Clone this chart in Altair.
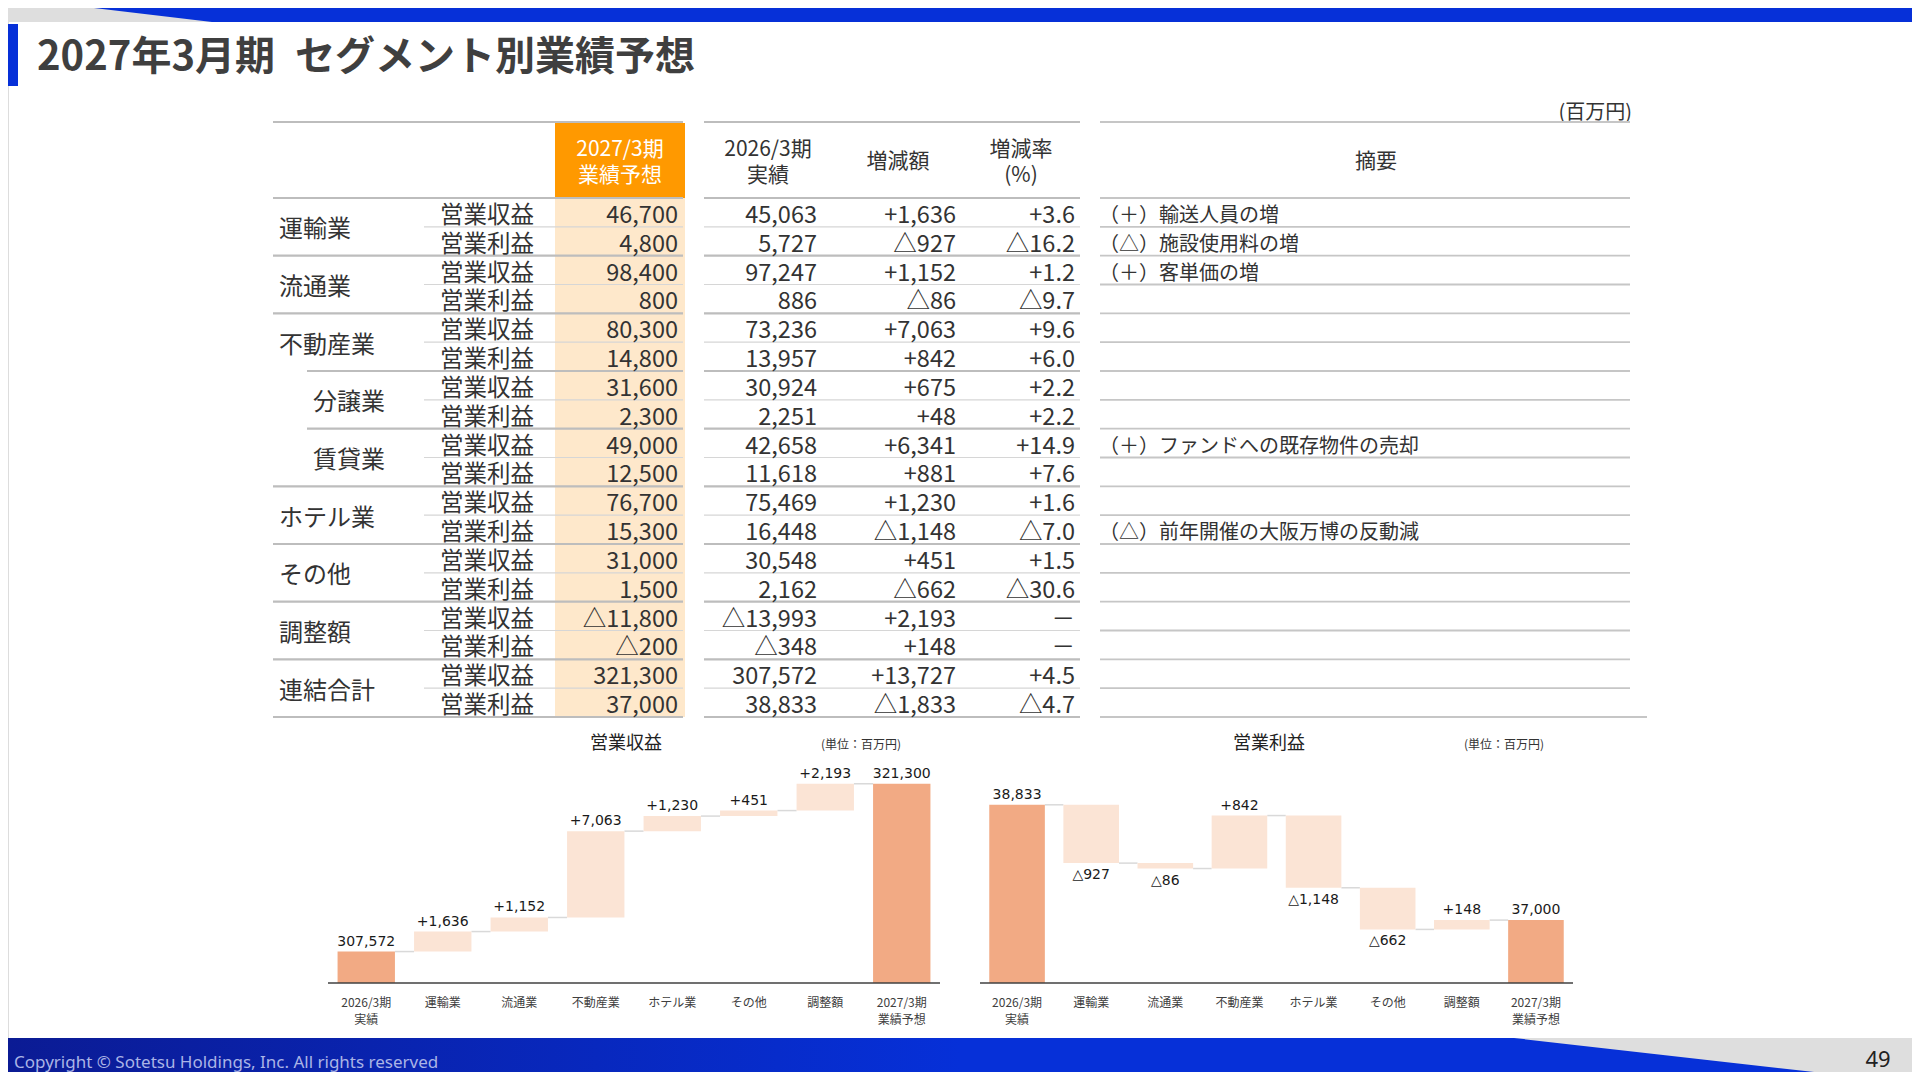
import altair as alt
import pandas as pd

alt.data_transformers.disable_max_rows()

JP = "Noto Sans CJK JP"
NUM = "DejaVu Sans"
TXT = "#333333"
BLUE = "#0630d8"
GRAY_WEDGE = "#dedede"
ORANGE = "#ff9900"
ORANGE_LIGHT = "#fee8cb"
BAR_TOTAL = "#f2aa84"
BAR_DELTA = "#fbe4d5"

# canvas (chart coords = slide pixel - 8, the page margin)
W, H = 1904, 1064

# DONNÉES DU TABLEAU
# -------------------------
groups = ["運輸業", "流通業", "不動産業", "分譲業", "賃貸業", "ホテル業", "その他", "調整額", "連結合計"]
sub_groups = ["分譲業", "賃貸業"]
items = ["営業収益", "営業利益"]

forecast_2027 = [46700, 4800, 98400, 800, 80300, 14800, 31600, 2300, 49000, 12500,
                 76700, 15300, 31000, 1500, -11800, -200, 321300, 37000]
actual_2026 = [45063, 5727, 97247, 886, 73236, 13957, 30924, 2251, 42658, 11618,
               75469, 16448, 30548, 2162, -13993, -348, 307572, 38833]
change = [1636, -927, 1152, -86, 7063, 842, 675, 48, 6341, 881,
          1230, -1148, 451, -662, 2193, 148, 13727, -1833]
change_rate = [3.6, -16.2, 1.2, -9.7, 9.6, 6.0, 2.2, 2.2, 14.9, 7.6,
               1.6, -7.0, 1.5, -30.6, None, None, 4.5, -4.7]
notes = ["（＋）輸送人員の増", "（△）施設使用料の増", "（＋）客単価の増", "", "", "", "", "",
         "（＋）ファンドへの既存物件の売却", "", "", "（△）前年開催の大阪万博の反動減",
         "", "", "", "", "", ""]

header_cols = ["2027/3期\n業績予想", "2026/3期\n実績", "増減額", "増減率\n(%)", "摘要"]

# waterfall categories (values come from the table above)
wf_steps = ["運輸業", "流通業", "不動産業", "ホテル業", "その他", "調整額"]
wf_labels = ["2026/3期\n実績"] + wf_steps + ["2027/3期\n業績予想"]


def fmt_num(v):
    return f"△{abs(v):,}" if v < 0 else f"{v:,}"


def fmt_chg(v):
    return f"△{abs(v):,}" if v < 0 else f"+{v:,}"


def fmt_rate(v):
    if v is None:
        return "－"
    return f"△{abs(v):.1f}" if v < 0 else f"+{v:.1f}"


n_rows = len(forecast_2027)
table = pd.DataFrame({
    "row": list(range(n_rows)),
    "item": items * (n_rows // 2),
    "f27": [fmt_num(v) for v in forecast_2027],
    "f26": [fmt_num(v) for v in actual_2026],
    "chg": [fmt_chg(v) for v in change],
    "rate": [fmt_rate(v) for v in change_rate],
    "note": notes,
})
grp = pd.DataFrame({"group": groups, "pos": [2 * i + 0.5 for i in range(len(groups))]})
grp["sub"] = grp["group"].isin(sub_groups)

one = pd.DataFrame({"v": [0]})
ROW_Y = alt.Scale(domain=[-0.5, n_rows - 0.5], range=[190, 709], nice=False, zero=False)


def box(x0, x1, y0, y1, **mk):
    return alt.Chart(one).mark_rect(**mk).encode(
        x=alt.value(x0), x2=alt.value(x1), y=alt.value(y0), y2=alt.value(y1))


def label(text, x, y, **mk):
    return alt.Chart(pd.DataFrame({"t": [text]})).mark_text(**mk).encode(
        x=alt.value(x), y=alt.value(y), text="t:N")


def wedge(px, py, py2, color):
    df = pd.DataFrame({"x": px, "y": py, "y2": py2})
    return alt.Chart(df).mark_area(color=color).encode(
        x=alt.X("x:Q", scale=None, axis=None),
        y=alt.Y("y:Q", scale=None, axis=None),
        y2="y2:Q")


def col_text(field, x, align, size=23.5, data=table):
    return alt.Chart(data).mark_text(align=align, baseline="middle", font=JP, dy=3.5,
                                     fontSize=size, color=TXT).encode(
        x=alt.value(x),
        y=alt.Y("row:Q", scale=ROW_Y, axis=None),
        text=f"{field}:N")


layers = []

# BANDEAU / TITRE
# -------------------------
layers.append(box(0, W, 0, 14, color=BLUE))
layers.append(wedge([0, 86, 204], [0, 0, 14], [14, 14, 14], GRAY_WEDGE))
layers.append(box(0, 10, 16, 78, color=BLUE))
layers.append(label("2027年3月期\u2002セグメント別業績予想", 29, 50, font=JP, fontSize=40,
                    fontWeight="bold", color="#3f3f3f", align="left", baseline="middle"))
layers.append(label("(百万円)", 1624, 105, font=JP, fontSize=20, color=TXT,
                    align="right", baseline="middle"))

# TABLEAU
# -------------------------
layers.append(box(547, 677, 115, 190, color=ORANGE))
fill = pd.DataFrame({"a": [-0.5], "b": [n_rows - 0.5]})
layers.append(alt.Chart(fill).mark_rect(color=ORANGE_LIGHT).encode(
    x=alt.value(547), x2=alt.value(677),
    y=alt.Y("a:Q", scale=ROW_Y, axis=None), y2="b:Q"))

# lignes du tableau
line_rows = []
for k in range(n_rows + 1):
    pos = k - 0.5
    if k % 2 == 0:
        g = groups[k // 2] if k // 2 < len(groups) else ""
        x0 = 299 if g in sub_groups else 265
        line_rows.append(dict(pos=pos, x0=x0, x1=675, w="thick"))
        line_rows.append(dict(pos=pos, x0=696, x1=1072, w="thick"))
    else:
        line_rows.append(dict(pos=pos, x0=416, x1=675, w="thin"))
        line_rows.append(dict(pos=pos, x0=696, x1=1072, w="thin"))
    line_rows.append(dict(pos=pos, x0=1092, x1=1639 if k == n_rows else 1622, w="note"))
lines = pd.DataFrame(line_rows)
line_style = {"thick": ("#bdbdbd", 2.2), "thin": ("#d6d6d6", 1.2), "note": ("#c6c6c6", 1.8)}
for w, (c, sw) in line_style.items():
    layers.append(alt.Chart(lines[lines["w"] == w]).mark_rule(color=c, strokeWidth=sw).encode(
        x=alt.X("x0:Q", scale=None, axis=None), x2="x1:Q",
        y=alt.Y("pos:Q", scale=ROW_Y, axis=None)))
for x0, x1, c in [(265, 675, "#bdbdbd"), (696, 1072, "#bdbdbd"), (1092, 1622, "#c6c6c6")]:
    layers.append(alt.Chart(one).mark_rule(color=c, strokeWidth=2.2).encode(
        x=alt.value(x0), x2=alt.value(x1), y=alt.value(114)))

# en-têtes (multi-ligne : y = première ligne)
header_x = [612, 760, 890, 1013, 1368]
for i, (txt, x) in enumerate(zip(header_cols, header_x)):
    y = 142 if "\n" in txt else 154
    layers.append(label(txt, x, y, font=JP, fontSize=21, lineHeight=26,
                        lineBreak="\n", color="white" if i == 0 else TXT,
                        align="center", baseline="middle"))

# texte des lignes
for sub, x in [(False, 271), (True, 305)]:
    layers.append(alt.Chart(grp[grp["sub"] == sub]).mark_text(
        align="left", baseline="middle", font=JP, fontSize=24, color=TXT, dy=3.5).encode(
        x=alt.value(x), y=alt.Y("pos:Q", scale=ROW_Y, axis=None), text="group:N"))
layers.append(col_text("item", 432, "left"))
layers.append(col_text("f27", 670, "right"))
layers.append(col_text("f26", 809, "right"))
layers.append(col_text("chg", 948, "right"))
layers.append(col_text("rate", 1067, "right"))
layers.append(col_text("note", 1091, "left", size=20))


# WATERFALLS
# -------------------------
def waterfall(offset, title, x_range, y_domain, y_range, title_x, unit_x):
    tot = groups.index("連結合計") * 2 + offset
    start, end = actual_2026[tot], forecast_2027[tot]
    deltas = [change[groups.index(g) * 2 + offset] for g in wf_steps]
    base = y_domain[0]
    recs = [dict(i=0, lo=base, hi=start, kind="total", label=fmt_num(start), neg=False)]
    level = start
    levels = [start]
    for j, d in enumerate(deltas, 1):
        new = level + d
        recs.append(dict(i=j, lo=min(level, new), hi=max(level, new), kind="delta",
                         label=fmt_chg(d), neg=d < 0))
        level = new
        levels.append(level)
    recs.append(dict(i=len(deltas) + 1, lo=base, hi=end, kind="total", label=fmt_num(end), neg=False))
    bars = pd.DataFrame(recs)
    bars["x0"] = bars["i"] + 0.125
    bars["x1"] = bars["i"] + 0.875
    bars["xc"] = bars["i"] + 0.5
    bars["cat"] = wf_labels
    links = pd.DataFrame({"x0": [i + 0.875 for i in range(len(levels))],
                          "x1": [i + 1.125 for i in range(len(levels))],
                          "lev": levels})
    axis_df = pd.DataFrame({"x0": [0], "x1": [len(wf_labels)], "y": [base]})

    xs = alt.Scale(domain=[0, len(wf_labels)], range=x_range, nice=False, zero=False)
    ys = alt.Scale(domain=y_domain, range=y_range, nice=False, zero=False)
    X = lambda f: alt.X(f, scale=xs, axis=None)
    Y = lambda f: alt.Y(f, scale=ys, axis=None)

    out = [
        alt.Chart(links).mark_rule(color="#d9d9d9", strokeWidth=1.5).encode(
            x=X("x0:Q"), x2="x1:Q", y=Y("lev:Q")),
        alt.Chart(bars[bars["kind"] == "delta"]).mark_rect(color=BAR_DELTA).encode(
            x=X("x0:Q"), x2="x1:Q", y=Y("lo:Q"), y2="hi:Q"),
        alt.Chart(bars[bars["kind"] == "total"]).mark_rect(color=BAR_TOTAL).encode(
            x=X("x0:Q"), x2="x1:Q", y=Y("lo:Q"), y2="hi:Q"),
        alt.Chart(axis_df).mark_rule(color="#404040", strokeWidth=1.5).encode(
            x=X("x0:Q"), x2="x1:Q", y=Y("y:Q")),
        alt.Chart(bars[~bars["neg"]]).mark_text(
            font=NUM, fontSize=14, color="#1a1a1a", baseline="bottom", dy=-3).encode(
            x=X("xc:Q"), y=Y("hi:Q"), text="label:N"),
        alt.Chart(bars[bars["neg"]]).mark_text(
            font=NUM, fontSize=14, color="#1a1a1a", baseline="top", dy=5).encode(
            x=X("xc:Q"), y=Y("lo:Q"), text="label:N"),
        alt.Chart(bars).mark_text(
            font=JP, fontSize=12, color="#404040", baseline="top", lineBreak="\n",
            lineHeight=17).encode(
            x=X("xc:Q"), y=alt.value(990), text="cat:N"),
        label(title, title_x, 736, font=JP, fontSize=18, color="#222222",
              align="center", baseline="middle"),
        label("(単位：百万円)", unit_x, 737, font=JP, fontSize=12, color="#333333",
              align="center", baseline="middle"),
    ]
    return out


layers += waterfall(0, "営業収益", [320, 932], [305000, 325000], [975, 730.5], 618, 853)
layers += waterfall(1, "営業利益", [972, 1565], [36000, 40000], [975, 723.4], 1261, 1496)

# PIED DE PAGE
# -------------------------
layers.append(box(0, W, 1030, H, color=alt.Gradient(
    gradient="linear",
    stops=[alt.GradientStop(color="#0b1b94", offset=0),
           alt.GradientStop(color=BLUE, offset=0.5),
           alt.GradientStop(color=BLUE, offset=1)],
    x1=0, x2=1, y1=0, y2=0)))
layers.append(wedge([1506, 1806, 1904], [1030, 1030, 1030], [1030, 1064, 1064], GRAY_WEDGE))
layers.append(label("Copyright \u00a9 Sotetsu Holdings, Inc. All rights reserved", 6, 1055,
                    font="Noto Sans", fontSize=17, color="#aab4e6", align="left", baseline="middle"))
layers.append(label("49", 1870, 1052, font="Noto Sans", fontSize=22, color="#222222",
                    align="center", baseline="middle"))

chart = alt.layer(*layers).resolve_scale(
    x="independent", y="independent"
).properties(
    width=W, height=H, padding=0, autosize="none"
).configure_view(
    strokeWidth=0
).configure(
    background="white"
)

chart.save("out.html", embed_options={"renderer": "svg", "actions": False})
